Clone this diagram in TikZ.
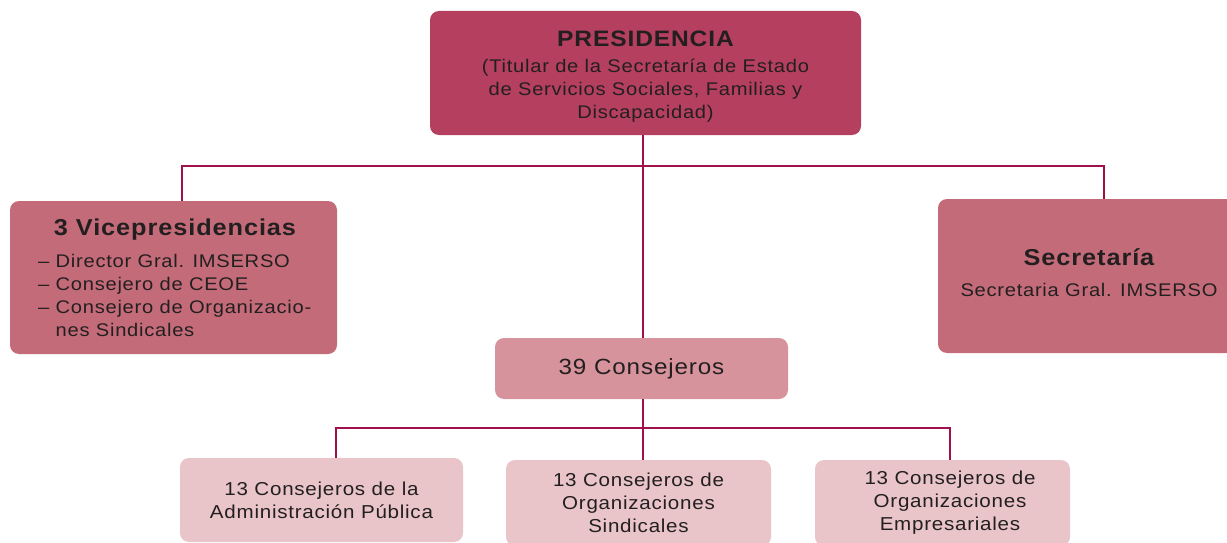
\documentclass[tikz,border=0pt]{standalone}
\usepackage{fontspec}
\setmainfont{Liberation Sans}[FakeStretch=1.1,LetterSpace=4]
\definecolor{cpres}{HTML}{B43F5F}
\definecolor{cvice}{HTML}{C46B79}
\definecolor{ccons}{HTML}{D7939C}
\definecolor{cbot}{HTML}{E9C5C9}
\definecolor{cline}{HTML}{A0104C}
\definecolor{ctxt}{HTML}{231F20}
\tikzset{
  box/.style={rounded corners=9pt, inner sep=0pt, align=center, text=ctxt},
  txt/.style={text=ctxt, inner sep=0pt, align=center},
  conn/.style={draw=cline, line width=2.5pt},
  tit/.style={font=\fontsize{23}{25}\selectfont\bfseries},
  reg/.style={font=\fontsize{18.3}{23}\selectfont},
  bot/.style={font=\fontsize{18.7}{23}\selectfont},
}
\begin{document}
\begin{tikzpicture}[x=1pt,y=-1pt]
\useasboundingbox (0,0) rectangle (1227,543);
\clip (0,0) rectangle (1227,543);
% boxes
\node[box, fill=cpres, minimum width=431pt, minimum height=124pt] (pres) at (645.5,73) {};
\node[txt, reg] (prest) at (645.5,77)
  {{\fontsize{22.3}{23}\selectfont\bfseries PRESIDENCIA}\\[3pt](Titular de la Secretaría de Estado\\de Servicios Sociales, Familias y\\Discapacidad)};
\node[box, fill=cvice, minimum width=327pt, minimum height=153pt] (vice) at (173.5,277.5) {};
\node[txt, anchor=north, tit] (vicet) at (175,219) {3 Vicepresidencias};
\node[txt, anchor=north west, align=left, reg] (vicel) at (38,254)
  {– Director Gral. IMSERSO\\– Consejero de CEOE\\– Consejero de Organizacio-\\\phantom{– }nes Sindicales};
\node[box, fill=cvice, minimum width=302pt, minimum height=154pt] (sec) at (1089,276) {};
\node[txt, tit] (sect) at (1089,257) {Secretaría};
\node[txt, reg] (secl) at (1089,290) {Secretaria Gral. IMSERSO};
\node[box, fill=ccons, minimum width=293pt, minimum height=61pt, font=\fontsize{22}{24}\selectfont] (cons) at (641.5,368.5) {39 Consejeros};
\node[box, fill=cbot, minimum width=283pt, minimum height=84pt, bot] (b1) at (321.5,500)
  {13 Consejeros de la\\Administración Pública};
\node[box, fill=cbot, minimum width=265pt, minimum height=86pt, bot] (b2) at (638.5,503)
  {13 Consejeros de\\Organizaciones\\Sindicales};
\node[box, fill=cbot, minimum width=255pt, minimum height=86pt] (b3) at (942.5,503) {};
\node[txt, bot] (b3t) at (950,503)
  {13 Consejeros de\\Organizaciones\\Empresariales};
% connectors
\coordinate (hbar) at (0,166);
\coordinate (lbar) at (0,428);
\coordinate (vl) at ([xshift=8.5pt]vice.north);
\coordinate (sl) at ([xshift=15pt]sec.north);
\coordinate (c1) at ([xshift=14.5pt]b1.north);
\coordinate (c3) at ([xshift=7.5pt]b3.north);
\coordinate (pc) at ([xshift=1.5pt]cons.north);
\coordinate (pb) at ([xshift=1.5pt]cons.south);
\draw[conn] (pres.south -| pc) -- (pc);
\draw[conn] (vl) -- (vl |- hbar) -- (sl |- hbar) -- (sl);
\draw[conn] (pb) -- (pb |- b2.north);
\draw[conn] (c1) -- (c1 |- lbar) -- (c3 |- lbar) -- (c3);
\end{tikzpicture}
\end{document}
